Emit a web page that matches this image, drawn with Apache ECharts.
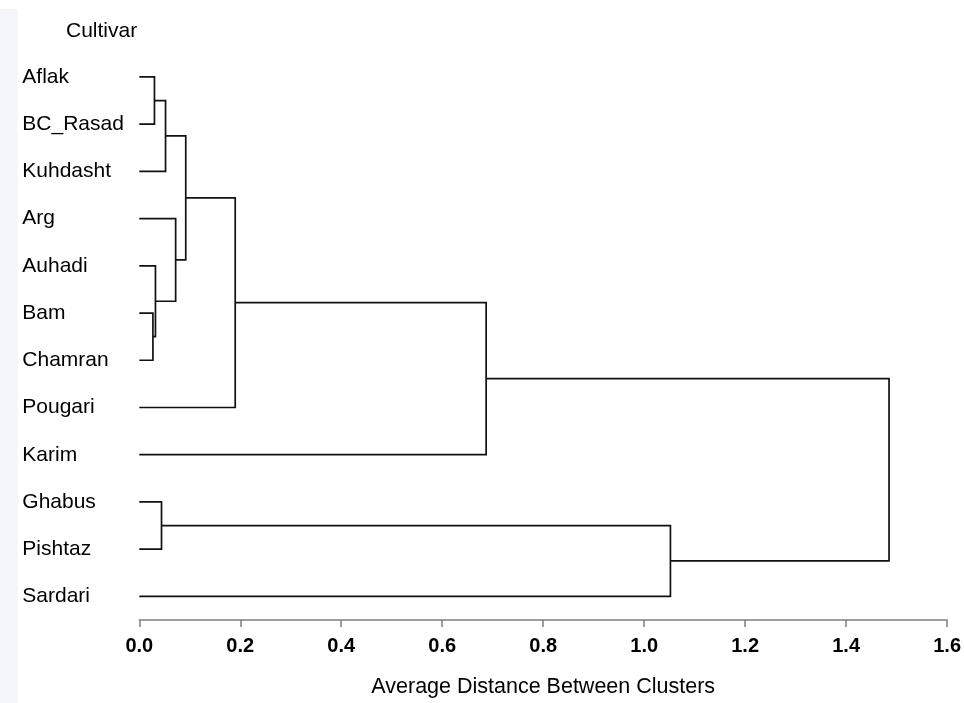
<!DOCTYPE html>
<html>
<head>
<meta charset="utf-8">
<script src="https://cdn.jsdelivr.net/npm/echarts@6/dist/echarts.min.js"></script>
<style>
html,body{margin:0;padding:0;background:#fff;}
#chart{width:964px;height:703px;}
</style>
</head>
<body>
<div id="chart"></div>
<script>
// Leaves (top to bottom)
const leaves = ['Aflak','BC_Rasad','Kuhdasht','Arg','Auhadi','Bam','Chamran','Pougari','Karim','Ghabus','Pishtaz','Sardari'];
// Merges: [childA, childB, height]; index < 12 = leaf, >= 12 = earlier merge (12 + row)
const merges = [
  [0, 1, 0.030],   // 12 Aflak + BC_Rasad
  [12, 2, 0.052],  // 13 + Kuhdasht
  [5, 6, 0.027],   // 14 Bam + Chamran
  [4, 14, 0.032],  // 15 Auhadi + (Bam, Chamran)
  [3, 15, 0.072],  // 16 Arg + ...
  [13, 16, 0.092], // 17
  [17, 7, 0.190],  // 18 + Pougari
  [18, 8, 0.687],  // 19 + Karim
  [9, 10, 0.044],  // 20 Ghabus + Pishtaz
  [20, 11, 1.052], // 21 + Sardari
  [19, 21, 1.485]  // 22 root
];
const xTicks = [0, 0.2, 0.4, 0.6, 0.8, 1.0, 1.2, 1.4, 1.6];
const xTitle = 'Average Distance Between Clusters';
const yTitle = 'Cultivar';

// node positions: [x (height), y (leaf index / mean)]
const nodePos = leaves.map((_, i) => [0, i]);
const segData = [];
merges.forEach(m => {
  const a = nodePos[m[0]], b = nodePos[m[1]], h = m[2];
  segData.push([a[0], a[1], b[0], b[1], h]);
  nodePos.push([h, (a[1] + b[1]) / 2]);
});

const FONT = "'Liberation Sans', Arial, Helvetica, sans-serif";
const chart = echarts.init(document.getElementById('chart'));
chart.setOption({
  animation: false,
  backgroundColor: '#ffffff',
  title: {
    text: yTitle, left: 61, top: 16,
    textStyle: {fontFamily: FONT, fontSize: 21, fontWeight: 'normal', color: '#000'}
  },
  graphic: [{
    type: 'rect', left: 0, top: 9, z: -10,
    shape: {width: 18, height: 694},
    style: {fill: '#f4f6fc'}
  }],
  grid: {left: 139.3, right: 14.7, top: 53.3, bottom: 81.3, containLabel: false},
  xAxis: {
    type: 'value', min: xTicks[0], max: xTicks[xTicks.length - 1], interval: 0.2,
    name: xTitle, nameLocation: 'middle', nameGap: 56,
    nameTextStyle: {fontFamily: FONT, fontSize: 21.5, color: '#000'},
    axisLine: {show: true, onZero: false, lineStyle: {color: '#7f7f7f', width: 1.5}},
    axisTick: {show: true, inside: false, length: 7, lineStyle: {color: '#7f7f7f', width: 1.5}},
    axisLabel: {
      margin: 16, fontFamily: FONT, fontSize: 20, fontWeight: 'bold', color: '#000',
      formatter: v => v.toFixed(1)
    },
    splitLine: {show: false}
  },
  yAxis: [{
    type: 'value', min: -0.5, max: 11.5, inverse: true, show: false
  }, {
    type: 'category', data: leaves, inverse: true, position: 'left',
    axisLine: {show: false}, axisTick: {show: false}, splitLine: {show: false},
    axisLabel: {align: 'left', margin: 117, fontFamily: FONT, fontSize: 21, color: '#000'}
  }],
  series: [{
    type: 'custom',
    coordinateSystem: 'cartesian2d',
    xAxisIndex: 0, yAxisIndex: 0,
    clip: false,
    encode: {x: [0, 2, 4], y: [1, 3]},
    data: segData,
    renderItem: function (params, api) {
      const xA = api.value(0), yA = api.value(1), xB = api.value(2), yB = api.value(3), h = api.value(4);
      const pts = [
        api.coord([xA, yA]), api.coord([h, yA]),
        api.coord([h, yB]), api.coord([xB, yB])
      ];
      return {
        type: 'polyline',
        shape: {points: pts},
        style: {stroke: '#111', lineWidth: 1.7, fill: null}
      };
    }
  }]
});
</script>
</body>
</html>
